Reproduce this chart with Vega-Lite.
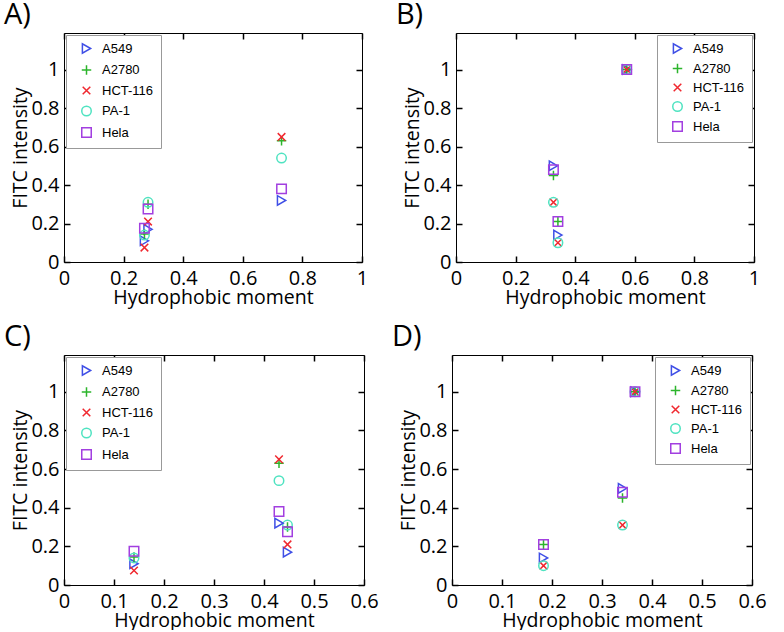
{
  "$schema": "https://vega.github.io/schema/vega-lite/v6.json",
  "padding": {"left": 3, "top": 0, "right": 0, "bottom": 0},
  "datasets": {
    "A": [
      {"cell": "A549", "x": 0.282, "y": 0.17},
      {"cell": "A2780", "x": 0.282, "y": 0.30},
      {"cell": "HCT-116", "x": 0.282, "y": 0.21},
      {"cell": "PA-1", "x": 0.282, "y": 0.31},
      {"cell": "Hela", "x": 0.282, "y": 0.275},
      {"cell": "A549", "x": 0.27, "y": 0.11},
      {"cell": "A2780", "x": 0.27, "y": 0.145},
      {"cell": "HCT-116", "x": 0.27, "y": 0.075},
      {"cell": "PA-1", "x": 0.27, "y": 0.14},
      {"cell": "Hela", "x": 0.27, "y": 0.175},
      {"cell": "A549", "x": 0.73, "y": 0.32},
      {"cell": "A2780", "x": 0.73, "y": 0.63},
      {"cell": "HCT-116", "x": 0.73, "y": 0.65},
      {"cell": "PA-1", "x": 0.73, "y": 0.54},
      {"cell": "Hela", "x": 0.73, "y": 0.38}
    ],
    "B": [
      {"cell": "A549", "x": 0.327, "y": 0.50},
      {"cell": "A2780", "x": 0.327, "y": 0.45},
      {"cell": "HCT-116", "x": 0.327, "y": 0.31},
      {"cell": "PA-1", "x": 0.327, "y": 0.31},
      {"cell": "Hela", "x": 0.327, "y": 0.48},
      {"cell": "A549", "x": 0.342, "y": 0.14},
      {"cell": "A2780", "x": 0.342, "y": 0.21},
      {"cell": "HCT-116", "x": 0.342, "y": 0.10},
      {"cell": "PA-1", "x": 0.342, "y": 0.10},
      {"cell": "Hela", "x": 0.342, "y": 0.21},
      {"cell": "A549", "x": 0.573, "y": 1.0},
      {"cell": "A2780", "x": 0.573, "y": 1.0},
      {"cell": "HCT-116", "x": 0.573, "y": 1.0},
      {"cell": "PA-1", "x": 0.573, "y": 1.0},
      {"cell": "Hela", "x": 0.573, "y": 1.0}
    ],
    "C": [
      {"cell": "A549", "x": 0.447, "y": 0.17},
      {"cell": "A2780", "x": 0.447, "y": 0.30},
      {"cell": "HCT-116", "x": 0.447, "y": 0.21},
      {"cell": "PA-1", "x": 0.447, "y": 0.31},
      {"cell": "Hela", "x": 0.447, "y": 0.275},
      {"cell": "A549", "x": 0.14, "y": 0.11},
      {"cell": "A2780", "x": 0.14, "y": 0.145},
      {"cell": "HCT-116", "x": 0.14, "y": 0.075},
      {"cell": "PA-1", "x": 0.14, "y": 0.14},
      {"cell": "Hela", "x": 0.14, "y": 0.175},
      {"cell": "A549", "x": 0.43, "y": 0.32},
      {"cell": "A2780", "x": 0.43, "y": 0.63},
      {"cell": "HCT-116", "x": 0.43, "y": 0.65},
      {"cell": "PA-1", "x": 0.43, "y": 0.54},
      {"cell": "Hela", "x": 0.43, "y": 0.38}
    ],
    "D": [
      {"cell": "A549", "x": 0.341, "y": 0.50},
      {"cell": "A2780", "x": 0.341, "y": 0.45},
      {"cell": "HCT-116", "x": 0.341, "y": 0.31},
      {"cell": "PA-1", "x": 0.341, "y": 0.31},
      {"cell": "Hela", "x": 0.341, "y": 0.48},
      {"cell": "A549", "x": 0.183, "y": 0.14},
      {"cell": "A2780", "x": 0.183, "y": 0.21},
      {"cell": "HCT-116", "x": 0.183, "y": 0.10},
      {"cell": "PA-1", "x": 0.183, "y": 0.10},
      {"cell": "Hela", "x": 0.183, "y": 0.21},
      {"cell": "A549", "x": 0.366, "y": 1.0},
      {"cell": "A2780", "x": 0.366, "y": 1.0},
      {"cell": "HCT-116", "x": 0.366, "y": 1.0},
      {"cell": "PA-1", "x": 0.366, "y": 1.0},
      {"cell": "Hela", "x": 0.366, "y": 1.0}
    ]
  },
  "vconcat": [
    {
      "hconcat": [
        {
          "width": 298, "height": 229,
          "title": {"text": "A)"},
          "data": {"name": "A"},
          "layer": [
            {
              "mark": {"type": "point", "filled": false, "size": 90, "strokeWidth": 1.5, "opacity": 1},
              "encoding": {
                "x": {"field": "x", "type": "quantitative", "scale": {"domain": [0, 1], "nice": false, "zero": false}, "axis": {"orient": "bottom", "values": [0, 0.2, 0.4, 0.6, 0.8, 1], "format": "~g", "title": "Hydrophobic moment"}},
                "y": {"field": "y", "type": "quantitative", "scale": {"domain": [0, 1.19], "nice": false, "zero": false}, "axis": {"orient": "left", "values": [0, 0.2, 0.4, 0.6, 0.8, 1], "format": "~g", "title": "FITC intensity"}},
                "color": {"field": "cell", "type": "nominal", "scale": {"domain": ["A549", "A2780", "HCT-116", "PA-1", "Hela"], "range": ["#3f4fe6", "#2cb52c", "#f0282f", "#4fe3c1", "#a23fe0"]}, "legend": {"orient": "top-left", "title": null, "rowPadding": 4.5}},
                "shape": {"field": "cell", "type": "nominal", "scale": {"domain": ["A549", "A2780", "HCT-116", "PA-1", "Hela"], "range": ["triangle-right", "M-1,0L1,0M0,-1L0,1", "M-0.8,-0.8L0.8,0.8M-0.8,0.8L0.8,-0.8", "circle", "square"]}, "legend": {"orient": "top-left", "title": null, "rowPadding": 4.5}}
              }
            },
            {
              "mark": {"type": "point", "opacity": 0},
              "encoding": {
                "x": {"field": "x", "type": "quantitative", "scale": {"domain": [0, 1], "nice": false, "zero": false}, "axis": {"orient": "top", "values": [0, 0.2, 0.4, 0.6, 0.8, 1], "labels": false, "title": null}},
                "y": {"field": "y", "type": "quantitative", "scale": {"domain": [0, 1.19], "nice": false, "zero": false}, "axis": {"orient": "right", "values": [0, 0.2, 0.4, 0.6, 0.8, 1], "labels": false, "title": null}}
              }
            }
          ],
          "resolve": {"axis": {"x": "independent", "y": "independent"}}
        },
        {
          "width": 298, "height": 229,
          "title": {"text": "B)"},
          "data": {"name": "B"},
          "layer": [
            {
              "mark": {"type": "point", "filled": false, "size": 90, "strokeWidth": 1.5, "opacity": 1},
              "encoding": {
                "x": {"field": "x", "type": "quantitative", "scale": {"domain": [0, 1], "nice": false, "zero": false}, "axis": {"orient": "bottom", "values": [0, 0.2, 0.4, 0.6, 0.8, 1], "format": "~g", "title": "Hydrophobic moment"}},
                "y": {"field": "y", "type": "quantitative", "scale": {"domain": [0, 1.19], "nice": false, "zero": false}, "axis": {"orient": "left", "values": [0, 0.2, 0.4, 0.6, 0.8, 1], "format": "~g", "title": "FITC intensity"}},
                "color": {"field": "cell", "type": "nominal", "scale": {"domain": ["A549", "A2780", "HCT-116", "PA-1", "Hela"], "range": ["#3f4fe6", "#2cb52c", "#f0282f", "#4fe3c1", "#a23fe0"]}, "legend": {"orient": "top-right", "title": null, "rowPadding": 3}},
                "shape": {"field": "cell", "type": "nominal", "scale": {"domain": ["A549", "A2780", "HCT-116", "PA-1", "Hela"], "range": ["triangle-right", "M-1,0L1,0M0,-1L0,1", "M-0.8,-0.8L0.8,0.8M-0.8,0.8L0.8,-0.8", "circle", "square"]}, "legend": {"orient": "top-right", "title": null, "rowPadding": 3}}
              }
            },
            {
              "mark": {"type": "point", "opacity": 0},
              "encoding": {
                "x": {"field": "x", "type": "quantitative", "scale": {"domain": [0, 1], "nice": false, "zero": false}, "axis": {"orient": "top", "values": [0, 0.2, 0.4, 0.6, 0.8, 1], "labels": false, "title": null}},
                "y": {"field": "y", "type": "quantitative", "scale": {"domain": [0, 1.19], "nice": false, "zero": false}, "axis": {"orient": "right", "values": [0, 0.2, 0.4, 0.6, 0.8, 1], "labels": false, "title": null}}
              }
            }
          ],
          "resolve": {"axis": {"x": "independent", "y": "independent"}}
        }
      ],
      "spacing": 26
    },
    {
      "hconcat": [
        {
          "width": 300, "height": 230,
          "title": {"text": "C)"},
          "data": {"name": "C"},
          "layer": [
            {
              "mark": {"type": "point", "filled": false, "size": 90, "strokeWidth": 1.5, "opacity": 1},
              "encoding": {
                "x": {"field": "x", "type": "quantitative", "scale": {"domain": [0, 0.6], "nice": false, "zero": false}, "axis": {"orient": "bottom", "values": [0, 0.1, 0.2, 0.3, 0.4, 0.5, 0.6], "format": "~g", "title": "Hydrophobic moment"}},
                "y": {"field": "y", "type": "quantitative", "scale": {"domain": [0, 1.19], "nice": false, "zero": false}, "axis": {"orient": "left", "values": [0, 0.2, 0.4, 0.6, 0.8, 1], "format": "~g", "title": "FITC intensity"}},
                "color": {"field": "cell", "type": "nominal", "scale": {"domain": ["A549", "A2780", "HCT-116", "PA-1", "Hela"], "range": ["#3f4fe6", "#2cb52c", "#f0282f", "#4fe3c1", "#a23fe0"]}, "legend": {"orient": "top-left", "title": null, "rowPadding": 4.5}},
                "shape": {"field": "cell", "type": "nominal", "scale": {"domain": ["A549", "A2780", "HCT-116", "PA-1", "Hela"], "range": ["triangle-right", "M-1,0L1,0M0,-1L0,1", "M-0.8,-0.8L0.8,0.8M-0.8,0.8L0.8,-0.8", "circle", "square"]}, "legend": {"orient": "top-left", "title": null, "rowPadding": 4.5}}
              }
            },
            {
              "mark": {"type": "point", "opacity": 0},
              "encoding": {
                "x": {"field": "x", "type": "quantitative", "scale": {"domain": [0, 0.6], "nice": false, "zero": false}, "axis": {"orient": "top", "values": [0, 0.1, 0.2, 0.3, 0.4, 0.5, 0.6], "labels": false, "title": null}},
                "y": {"field": "y", "type": "quantitative", "scale": {"domain": [0, 1.19], "nice": false, "zero": false}, "axis": {"orient": "right", "values": [0, 0.2, 0.4, 0.6, 0.8, 1], "labels": false, "title": null}}
              }
            }
          ],
          "resolve": {"axis": {"x": "independent", "y": "independent"}}
        },
        {
          "width": 300, "height": 230,
          "title": {"text": "D)"},
          "data": {"name": "D"},
          "layer": [
            {
              "mark": {"type": "point", "filled": false, "size": 90, "strokeWidth": 1.5, "opacity": 1},
              "encoding": {
                "x": {"field": "x", "type": "quantitative", "scale": {"domain": [0, 0.6], "nice": false, "zero": false}, "axis": {"orient": "bottom", "values": [0, 0.1, 0.2, 0.3, 0.4, 0.5, 0.6], "format": "~g", "title": "Hydrophobic moment"}},
                "y": {"field": "y", "type": "quantitative", "scale": {"domain": [0, 1.19], "nice": false, "zero": false}, "axis": {"orient": "left", "values": [0, 0.2, 0.4, 0.6, 0.8, 1], "format": "~g", "title": "FITC intensity"}},
                "color": {"field": "cell", "type": "nominal", "scale": {"domain": ["A549", "A2780", "HCT-116", "PA-1", "Hela"], "range": ["#3f4fe6", "#2cb52c", "#f0282f", "#4fe3c1", "#a23fe0"]}, "legend": {"orient": "top-right", "title": null, "rowPadding": 3}},
                "shape": {"field": "cell", "type": "nominal", "scale": {"domain": ["A549", "A2780", "HCT-116", "PA-1", "Hela"], "range": ["triangle-right", "M-1,0L1,0M0,-1L0,1", "M-0.8,-0.8L0.8,0.8M-0.8,0.8L0.8,-0.8", "circle", "square"]}, "legend": {"orient": "top-right", "title": null, "rowPadding": 3}}
              }
            },
            {
              "mark": {"type": "point", "opacity": 0},
              "encoding": {
                "x": {"field": "x", "type": "quantitative", "scale": {"domain": [0, 0.6], "nice": false, "zero": false}, "axis": {"orient": "top", "values": [0, 0.1, 0.2, 0.3, 0.4, 0.5, 0.6], "labels": false, "title": null}},
                "y": {"field": "y", "type": "quantitative", "scale": {"domain": [0, 1.19], "nice": false, "zero": false}, "axis": {"orient": "right", "values": [0, 0.2, 0.4, 0.6, 0.8, 1], "labels": false, "title": null}}
              }
            }
          ],
          "resolve": {"axis": {"x": "independent", "y": "independent"}}
        }
      ],
      "spacing": 12
    }
  ],
  "spacing": 15,
  "config": {
    "font": "Open Sans",
    "view": {"stroke": "black", "strokeWidth": 1},
    "axis": {
      "grid": false,
      "domain": false,
      "ticks": true,
      "tickColor": "#000000",
      "tickOpacity": 1,
      "tickWidth": 1.5,
      "tickSize": 6,
      "offset": -6,
      "zindex": 1,
      "labelFlush": false,
      "labelFont": "Open Sans",
      "labelFontSize": 20,
      "labelColor": "black",
      "titleFont": "Open Sans",
      "titleFontSize": 19.5,
      "titleFontWeight": "normal",
      "titleColor": "black",
      "titlePadding": 0
    },
    "axisX": {"labelPadding": 6},
    "axisY": {"labelPadding": 5},
    "legend": {
      "strokeColor": "#999999",
      "fillColor": "white",
      "padding": 7,
      "offset": 2,
      "labelFont": "Liberation Sans",
      "labelFontSize": 13,
      "labelColor": "black",
      "labelOffset": 9,
      "symbolSize": 90,
      "symbolStrokeWidth": 1.5,
      "symbolOffset": 7,
      "symbolOpacity": 1
    },
    "title": {
      "font": "Open Sans",
      "fontSize": 29,
      "fontWeight": "normal",
      "anchor": "start",
      "frame": "bounds",
      "offset": 2,
      "dx": -7,
      "baseline": "alphabetic",
      "color": "black"
    }
  }
}
